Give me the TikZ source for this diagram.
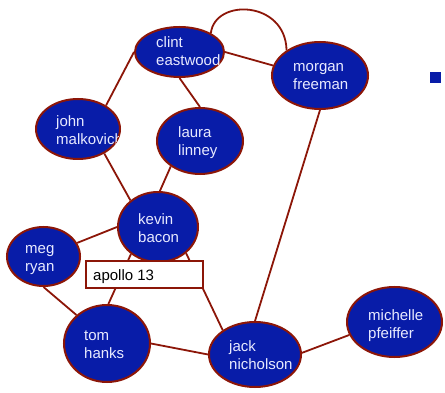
\documentclass[tikz,border=0pt]{standalone}
\usepackage{fontspec}
\setmainfont{Liberation Sans}
\usetikzlibrary{shapes.geometric}
\pgfdeclarelayer{background}
\pgfsetlayers{background,main}
\definecolor{nodeblue}{RGB}{8,28,168}
\definecolor{edgered}{RGB}{140,22,8}
\definecolor{labelwhite}{RGB}{232,234,255}
\tikzset{
  actor/.style={ellipse, draw=edgered, fill=nodeblue, line width=2pt, inner sep=0pt},
  link/.style={draw=edgered, line width=1.8pt},
  lbl/.style={text=labelwhite, font=\fontsize{15}{18}\selectfont, align=left,
    inner sep=0pt, anchor=base west},
  moviebox/.style={rectangle, draw=edgered, fill=white, line width=2pt, inner sep=0pt},
  movielbl/.style={text=black, font=\fontsize{15}{18}\selectfont, inner sep=0pt, anchor=base west},
}
% name, centre x, centre y, x radius, y radius, label x, first baseline, label
% (a two-line label sits on the baseline of its last line, 18pt lower)
\newcommand\actornode[8]{%
  \node[actor, minimum width={2*#4pt}, minimum height={2*#5pt}] (#1) at (#2,#3) {};
  \begin{scope}
    \clip (#2,#3) ellipse [x radius=#4, y radius=#5];
    \node[lbl] (#1-label) at (#6,{#7+18}) {#8};
  \end{scope}}
\begin{document}
\begin{tikzpicture}[x=1pt, y=-1pt]
  \useasboundingbox (0,0) rectangle (445,393);

  \actornode{clint}{179.5}{52}{44.5}{25}{156}{48}{clint\\eastwood}
  \actornode{morgan}{320}{75.5}{48}{33.5}{293}{72}{morgan\\freeman}
  \actornode{john}{78}{129}{42}{30}{56}{127}{john\\malkovich}
  \actornode{laura}{200}{141}{43}{33}{178}{138}{laura\\linney}
  \actornode{kevin}{158}{227}{40}{35}{138}{225}{kevin\\bacon}
  \actornode{meg}{43.5}{256.5}{36.5}{29.5}{25}{254}{meg\\ryan}
  \actornode{tom}{107}{343.5}{43}{38.5}{84}{340}{tom\\hanks}
  \actornode{jack}{255}{354.5}{46}{32.5}{229}{351}{jack\\nicholson}
  \actornode{michelle}{394.5}{322}{47.5}{35}{368}{320}{michelle\\pfeiffer}

  % the film linking the actors
  \node[moviebox, minimum width=117pt, minimum height=27pt] (apollo) at (144.5,274.5) {};
  \node[movielbl] (apollo-label) at (93,280) {apollo 13};

  % legend marker
  \node[rectangle, fill=nodeblue, minimum size=11pt, inner sep=0pt] (marker) at (435.5,78) {};

  \begin{pgfonlayer}{background}
    \draw[link] (clint.0) -- (morgan.168);
    \draw[link] (clint.31) .. controls +(4,-35) and +(-1,-50) .. (morgan.143);
    \draw[link] (clint.180) -- (john.40);
    \draw[link] (clint.270) -- (laura.90);
    \draw[link] (john.-43) -- (kevin.136);
    \draw[link] (laura.221) -- (kevin.87);
    \draw[link] (morgan.270) -- (jack.90);
    \draw[link] (kevin.180) -- (meg.22);
    \draw[link] (kevin.225) -- (tom.88);
    \draw[link] (kevin.-43) -- (jack.143);
    \draw[link] (meg.270) -- (tom.137);
    \draw[link] (tom.0) -- (jack.180);
    \draw[link] (jack.2) -- (michelle.196);
  \end{pgfonlayer}
\end{tikzpicture}
\end{document}
